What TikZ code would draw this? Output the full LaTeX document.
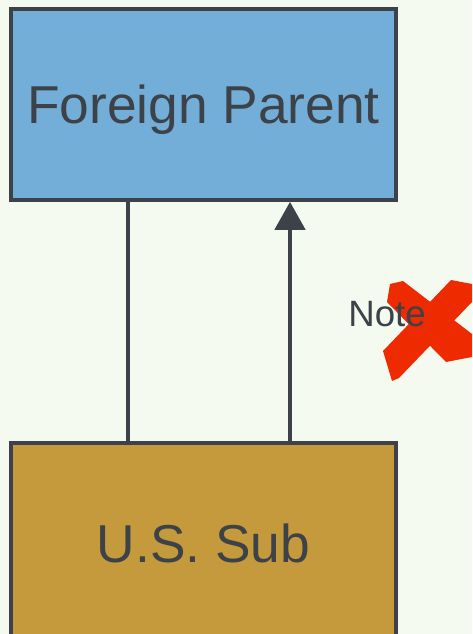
\documentclass[tikz,border=0pt]{standalone}
\usepackage{fontspec}
\setsansfont{Liberation Sans}
\usepackage{xcolor}
\usetikzlibrary{calc, arrows.meta}
\definecolor{pagebg}{HTML}{F5FAF0}
\definecolor{inkgray}{HTML}{3C4248}
\definecolor{parentblue}{HTML}{73AED8}
\definecolor{subgold}{HTML}{C49A3C}
\definecolor{crossred}{HTML}{EE2A00}

\begin{document}
\begin{tikzpicture}[x=0.75pt,y=-0.75pt,
                    main node/.style={rectangle,draw=inkgray,line width=2.7pt,text=inkgray,
                      minimum width=288.75pt,minimum height=143.25pt,text depth=0pt,
                      font=\sffamily\fontsize{40}{48}\selectfont},
                    link/.style={draw=inkgray,line width=3.5pt}]

 \fill[pagebg] (0,0) rectangle (472,634);
 \useasboundingbox (0,0) rectangle (472,634);

 \node[main node,fill=parentblue] (parent) at (203.5,104.5) {Foreign Parent};

 \node[main node,fill=subgold,minimum height=150pt] (sub) at (203.5,543) {U.S. Sub};

 \coordinate (lx) at (128,0);
 \coordinate (rx) at (290,0);

 \path[link] (sub.north -| lx) -- (parent.south -| lx);
 \path[link,-{Triangle[length=21pt,width=22.5pt]}] (sub.north -| rx) -- (parent.south -| rx);

 % crossed-out note
 \fill[crossred] (390,284) -- (403,281) -- (472,334) -- (472,357) -- (446,362) -- (387,302) -- cycle;
 \fill[crossred] (451,280) -- (472,284) -- (472,302) -- (399,378) -- (392,381) -- (383,351) -- cycle;

 \node[font=\sffamily\fontsize{27.5}{32}\selectfont,text=inkgray,anchor=base] (note) at (387,326) {Note};

\end{tikzpicture}
\end{document}
